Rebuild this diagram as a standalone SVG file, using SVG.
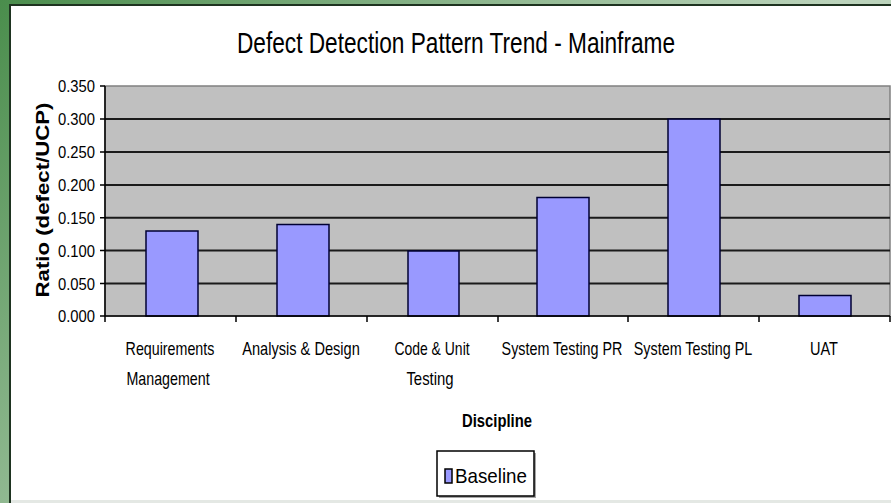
<svg xmlns="http://www.w3.org/2000/svg" width="891" height="503" viewBox="0 0 891 503">
  <defs>
    <linearGradient id="frameGrad" gradientUnits="userSpaceOnUse" x1="0" y1="0" x2="420" y2="420">
      <stop offset="0" stop-color="#4a8d4c"/>
      <stop offset="0.45" stop-color="#7fae80"/>
      <stop offset="1" stop-color="#bcd4bc"/>
    </linearGradient>
    <style>
      .t { font-family: "Liberation Sans", Arial, sans-serif; fill: #000; }
      .tick { font-size: 17px; text-anchor: end; }
      .cat { font-size: 18px; text-anchor: middle; }
      .grid { stroke: #1a1a1a; stroke-width: 2; }
      .axis { stroke: #000; stroke-width: 1.5; }
      .bar { fill: #9999ff; stroke: #000033; stroke-width: 1.5; }
    </style>
  </defs>

  <!-- background frame -->
  <rect x="0" y="0" width="891" height="503" fill="url(#frameGrad)"/>
  <rect x="9" y="4" width="882" height="499" fill="#1e3320"/>
  <rect x="11" y="6" width="880" height="495" fill="#ffffff"/>
  <rect x="11" y="500" width="880" height="3" fill="#e4e8e4"/>

  <!-- title -->
  <text id="title" class="t" x="456" y="53" font-size="30" text-anchor="middle" textLength="438" lengthAdjust="spacingAndGlyphs">Defect Detection Pattern Trend - Mainframe</text>

  <!-- plot area -->
  <g id="plot">
    <rect x="105" y="86" width="785" height="230" fill="#c0c0c0" stroke="#808080" stroke-width="1.5"/>
    <line class="grid" x1="105" y1="119.1" x2="890" y2="119.1"/>
    <line class="grid" x1="105" y1="152" x2="890" y2="152"/>
    <line class="grid" x1="105" y1="184.9" x2="890" y2="184.9"/>
    <line class="grid" x1="105" y1="217.7" x2="890" y2="217.7"/>
    <line class="grid" x1="105" y1="250.6" x2="890" y2="250.6"/>
    <line class="grid" x1="105" y1="283.4" x2="890" y2="283.4"/>
  </g>

  <!-- bars -->
  <g id="bars">
    <rect id="bar-req" class="bar" x="146" y="231" width="52" height="85"/>
    <rect id="bar-ad" class="bar" x="277" y="224.5" width="52" height="91.5"/>
    <rect id="bar-cut" class="bar" x="408" y="251" width="51" height="65"/>
    <rect id="bar-stpr" class="bar" x="537" y="197.5" width="52" height="118.5"/>
    <rect id="bar-stpl" class="bar" x="668" y="119.1" width="52" height="196.9"/>
    <rect id="bar-uat" class="bar" x="799" y="295.5" width="52" height="20.5"/>
  </g>

  <!-- axes -->
  <g id="axes">
    <line class="axis" x1="105" y1="86" x2="105" y2="316"/>
    <line class="axis" x1="105" y1="316" x2="890" y2="316"/>
    <path class="axis" fill="none" d="M100,86H105M100,119.1H105M100,152H105M100,184.9H105M100,217.7H105M100,250.6H105M100,283.4H105M100,316H105"/>
    <path class="axis" fill="none" d="M105,316V322M236,316V322M367,316V322M498,316V322M628,316V322M759,316V322M890,316V322"/>
  </g>

  <!-- y tick labels -->
  <g id="y-labels" class="t tick">
    <text x="95" y="92" textLength="37" lengthAdjust="spacingAndGlyphs">0.350</text>
    <text x="95" y="125" textLength="37" lengthAdjust="spacingAndGlyphs">0.300</text>
    <text x="95" y="158" textLength="37" lengthAdjust="spacingAndGlyphs">0.250</text>
    <text x="95" y="191" textLength="37" lengthAdjust="spacingAndGlyphs">0.200</text>
    <text x="95" y="224" textLength="37" lengthAdjust="spacingAndGlyphs">0.150</text>
    <text x="95" y="257" textLength="37" lengthAdjust="spacingAndGlyphs">0.100</text>
    <text x="95" y="290" textLength="37" lengthAdjust="spacingAndGlyphs">0.050</text>
    <text x="95" y="322" textLength="37" lengthAdjust="spacingAndGlyphs">0.000</text>
  </g>

  <!-- y axis title -->
  <text id="y-title" class="t" transform="translate(49,200) rotate(-90)" font-size="18" font-weight="bold" text-anchor="middle" textLength="195" lengthAdjust="spacingAndGlyphs">Ratio (defect/UCP)</text>

  <!-- category labels (condensed) -->
  <g id="x-labels" class="t cat">
    <text transform="translate(170,355) scale(0.8,1)" textLength="111" lengthAdjust="spacingAndGlyphs">Requirements</text>
    <text transform="translate(168,385) scale(0.8,1)" textLength="104" lengthAdjust="spacingAndGlyphs">Management</text>
    <text transform="translate(301,355) scale(0.8,1)" textLength="147" lengthAdjust="spacingAndGlyphs">Analysis &amp; Design</text>
    <text transform="translate(432,355) scale(0.8,1)" textLength="94" lengthAdjust="spacingAndGlyphs">Code &amp; Unit</text>
    <text transform="translate(430,385) scale(0.8,1)" textLength="59" lengthAdjust="spacingAndGlyphs">Testing</text>
    <text transform="translate(562,355) scale(0.8,1)" textLength="151" lengthAdjust="spacingAndGlyphs">System Testing PR</text>
    <text transform="translate(693,355) scale(0.8,1)" textLength="148" lengthAdjust="spacingAndGlyphs">System Testing PL</text>
    <text transform="translate(824,355) scale(0.8,1)" textLength="35" lengthAdjust="spacingAndGlyphs">UAT</text>
  </g>

  <!-- x axis title -->
  <text id="x-title" class="t" x="497" y="427" font-size="18" font-weight="bold" text-anchor="middle" textLength="70" lengthAdjust="spacingAndGlyphs">Discipline</text>

  <!-- legend -->
  <g id="legend">
    <rect x="439" y="453" width="97" height="45" fill="#000" opacity="0.35"/>
    <rect x="437" y="451" width="97" height="45" fill="#ffffff" stroke="#000" stroke-width="1.5"/>
    <rect x="445" y="469" width="7" height="14" fill="#9999ff" stroke="#000" stroke-width="1.5"/>
    <text class="t" x="455" y="483" font-size="21" textLength="72" lengthAdjust="spacingAndGlyphs">Baseline</text>
  </g>
</svg>
